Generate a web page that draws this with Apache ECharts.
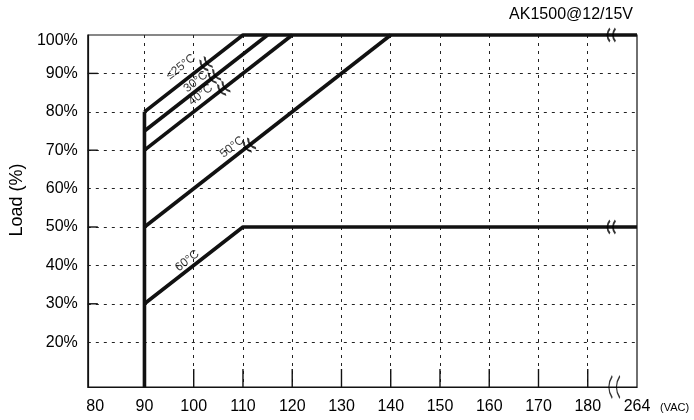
<!DOCTYPE html>
<html><head><meta charset="utf-8">
<script src="https://cdn.jsdelivr.net/npm/echarts@6/dist/echarts.min.js"></script>
<style>html,body{margin:0;padding:0;background:#fff}#c{width:694px;height:420px}</style>
</head><body><div id="c"></div><script>
const chartTitle = 'AK1500@12/15V';
const yName = 'Load (%)';
const xUnit = '(VAC)';
const xTicks = [80, 90, 100, 110, 120, 130, 140, 150, 160, 170, 180];
const xBreakValue = 190;
const xBreakLabel = '264';
const yTicks = [20, 30, 40, 50, 60, 70, 80, 90, 100];
const yMajorTicks = [30, 50, 70, 90];
const xLeft = 78.5;
const yBottom = 8.33;
const minVoltage = [[90, yBottom], [90, 80]];
const curve25 = [[90, 80], [110, 100], [190, 100]];
const curve30 = [[90, 75], [115, 100]];
const curve40 = [[90, 70], [120, 100]];
const curve50 = [[90, 50], [140, 100]];
const curve60 = [[90, 30], [110, 50], [190, 50]];
const curveLabels = [['≤25°C', 97.4, 91.7], ['30°C', 100.4, 87.8], ['40°C', 101.4, 84.4], ['50°C', 107.8, 70.8], ['60°C', 98.7, 41.2]];
const lineBreaks = [[102.4, 92.4, 38], [104.1, 89.1, 38], [106.0, 86.0, 38], [111.2, 71.2, 38], [184.8, 100, 0], [184.8, 50, 0]];
const axisBreak = [[185.4, yBottom]];

const FONT = 'Liberation Sans, Arial, Helvetica, sans-serif';
const breakPath = 'path://M2,0 C-1,4 -1,8 2,12 M7,0 C4,4 4,8 7,12';

function lineSeries(data) {
  return { type: 'line', data: data, symbol: 'none', clip: false, silent: true,
    lineStyle: { color: '#111', width: 3.6 }, z: 5 };
}

const chart = echarts.init(document.getElementById('c'), null, { renderer: 'canvas' });
chart.setOption({
  animation: false,
  backgroundColor: '#fff',
  title: { text: chartTitle, right: 56, top: 2, textStyle: { fontFamily: FONT, fontSize: 16, fontWeight: 'normal', color: '#000' } },
  grid: { left: 83, right: 57, top: 35, bottom: 33, show: true, borderColor: '#111', borderWidth: 1.2, containLabel: false },
  xAxis: {
    type: 'value', min: xLeft, max: xBreakValue,
    name: xUnit, nameLocation: 'end', nameGap: 23,
    nameTextStyle: { fontFamily: FONT, fontSize: 11, color: '#000', verticalAlign: 'top', padding: [15, 0, 0, 0] },
    axisLine: { show: true, lineStyle: { color: '#111', width: 1.2 } },
    axisTick: { show: false, customValues: xTicks.slice(1) },
    axisLabel: { customValues: xTicks.concat([xBreakValue]), margin: 12, fontFamily: FONT, fontSize: 16, color: '#000',
      formatter: v => (v === xBreakValue ? xBreakLabel : String(v)) },
    splitLine: { show: true, lineStyle: { color: '#222', width: 1, type: [3, 5] } }
  },
  yAxis: {
    type: 'value', min: yBottom, max: 100,
    name: yName, nameLocation: 'middle', nameGap: 58,
    nameTextStyle: { fontFamily: FONT, fontSize: 18, color: '#000', padding: [0, 0, 0, 22] },
    axisLine: { show: true, lineStyle: { color: '#111', width: 1.2 } },
    axisTick: { show: false, customValues: yTicks.slice(0, -1) },
    axisLabel: { customValues: yTicks, margin: 10, fontFamily: FONT, fontSize: 16, color: '#000',
      formatter: v => (v === 100 ? '{t|100%}' : v + '%'),
      rich: { t: { fontFamily: FONT, fontSize: 16, color: '#000', padding: [11, 0, 0, 0] } } },
    splitLine: { show: true, lineStyle: { color: '#222', width: 1, type: [3, 5] } }
  },
  series: [
    { type: 'custom', silent: true, z: 8, clip: false, coordinateSystem: 'cartesian2d',
      data: xTicks.slice(1).map(v => [v, yBottom]),
      renderItem: (params, api) => {
        const p = api.coord([api.value(0), api.value(1)]);
        return { type: 'line', shape: { x1: p[0], y1: p[1], x2: p[0], y2: p[1] - 18 }, style: { stroke: '#111', lineWidth: 1.4, fill: null } };
      } },
    { type: 'custom', silent: true, z: 8, clip: false, coordinateSystem: 'cartesian2d',
      data: yMajorTicks.map(v => [xLeft, v]),
      renderItem: (params, api) => {
        const p = api.coord([api.value(0), api.value(1)]);
        return { type: 'line', shape: { x1: p[0], y1: p[1], x2: p[0] + 10, y2: p[1] }, style: { stroke: '#111', lineWidth: 1.4, fill: null } };
      } },
    lineSeries(minVoltage),
    lineSeries(curve25),
    lineSeries(curve30),
    lineSeries(curve40),
    lineSeries(curve50),
    lineSeries(curve60),
    { type: 'scatter', symbolSize: 0, silent: true, z: 6,
      data: curveLabels.map(d => ({ name: d[0], value: [d[1], d[2]] })),
      label: { show: true, position: 'inside', rotate: 38, formatter: p => p.name, fontFamily: FONT, fontSize: 12, color: '#000' } },
    { type: 'scatter', symbol: breakPath, symbolSize: [8, 13], silent: true, z: 7, clip: false,
      data: lineBreaks.map(d => ({ value: [d[0], d[1]], symbolRotate: d[2] })),
      itemStyle: { color: 'none', borderColor: '#000', borderWidth: 2.2 } },
    { type: 'scatter', symbol: breakPath, symbolSize: [11, 22], silent: true, z: 7, clip: false,
      data: axisBreak,
      itemStyle: { color: 'none', borderColor: '#000', borderWidth: 1.6 } }
  ]
});
</script></body></html>
